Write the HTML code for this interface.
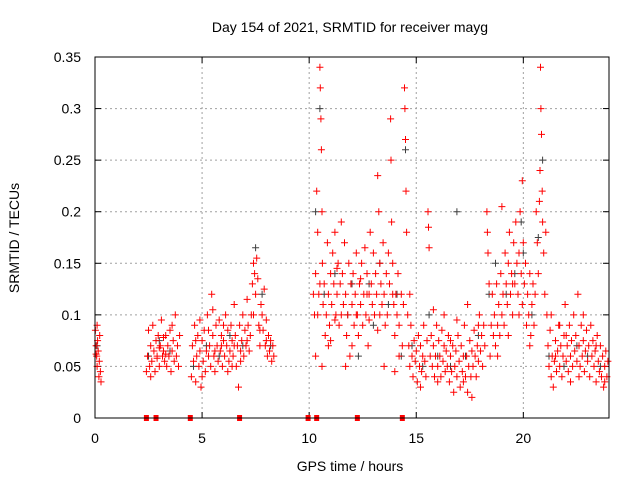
<!DOCTYPE html>
<html><head><meta charset="utf-8"><style>
body{margin:0;background:#fff}
svg{display:block;font-family:"Liberation Sans",sans-serif}
</style></head><body>
<svg id="chart" width="640" height="480" viewBox="0 0 640 480">
<rect width="640" height="480" fill="#fff"/>
<text x="350" y="32" font-size="14" text-anchor="middle">Day 154 of 2021, SRMTID for receiver mayg</text>
<text transform="translate(19,238) rotate(-90)" font-size="14" text-anchor="middle">SRMTID / TECUs</text>
<text x="350" y="471" font-size="14" text-anchor="middle">GPS time / hours</text>
<g id="grid"></g>
<g id="ticks"></g>
<g id="gray"></g>
<g id="red"></g>
<g id="gaps"></g>
<rect x="95" y="57" width="514" height="361" fill="none" stroke="#000" stroke-width="1"/>
</svg>
<script>
const xTicks=[0,5,10,15,20];
const yTicks=[0,0.05,0.1,0.15,0.2,0.25,0.3,0.35];
const yTickLabels=["0","0.05","0.1","0.15","0.2","0.25","0.3","0.35"];
const gapHours=[2.4,2.85,4.45,6.75,9.95,10.35,12.25,14.35];
const red=[[0.02,.085],[0.05,.07],[0.08,.06],[0.1,.05],[0.12,.075],[0.15,.065],[0.18,.04],[0.2,.055],[0.22,.08],[0.25,.045],[0.28,.035],[0.1,.09],[0.05,.062],
[2.4,.045],[2.45,.06],[2.5,.085],[2.55,.05],[2.6,.07],[2.65,.055],[2.7,.09],[2.75,.065],[2.8,.045],[2.85,.075],[2.9,.06],[2.95,.08],[3.0,.05],[3.05,.07],[3.1,.095],[3.15,.06],[3.2,.065],[3.25,.055],[3.3,.08],[3.35,.05],[3.4,.07],[3.45,.06],[3.5,.085],[3.55,.045],[3.6,.065],[3.65,.075],[3.7,.055],[3.75,.1],[3.8,.06],[3.85,.07],[3.9,.05],[3.95,.08],[2.6,.04],[3.0,.068],[3.3,.062],[3.6,.09],[2.9,.058],[3.2,.078],
[4.5,.04],[4.55,.07],[4.6,.055],[4.65,.09],[4.7,.035],[4.75,.06],[4.8,.08],[4.85,.05],[4.9,.065],[4.95,.03],[5.0,.075],[5.05,.055],[5.1,.085],[5.15,.045],[5.2,.065],[5.25,.1],[5.3,.06],[5.35,.07],[5.4,.05],[5.45,.12],[5.5,.08],[5.55,.06],[5.6,.045],[5.65,.09],[5.7,.07],[5.75,.055],[5.8,.095],[5.85,.065],[5.9,.08],[5.95,.05],[6.0,.075],[6.05,.06],[6.1,.1],[6.15,.07],[6.2,.085],[6.25,.055],[6.3,.065],[6.35,.09],[6.4,.075],[6.45,.06],[6.5,.11],[6.55,.08],[6.6,.05],[6.65,.07],[6.7,.03],[6.75,.09],[6.8,.065],[6.85,.075],[6.9,.1],[6.95,.06],[7.0,.085],[7.05,.07],[7.1,.115],[7.15,.09],[7.2,.065],[7.25,.08],[7.3,.1],[7.35,.13],[7.4,.15],[7.45,.14],[7.5,.12],[7.55,.155],[7.6,.135],[7.65,.09],[7.7,.07],[7.75,.11],[7.8,.1],[7.85,.085],[7.9,.125],[7.95,.07],[8.0,.095],[8.05,.06],[8.1,.08],[8.15,.065],[8.2,.075],[8.25,.055],[8.3,.07],[8.35,.06],[4.7,.075],[5.0,.04],[5.3,.085],[5.6,.065],[5.9,.07],[6.2,.045],[6.5,.07],[6.8,.055],[7.1,.075],[7.4,.1],[7.7,.085],[8.0,.075],[4.9,.095],[5.5,.105],[6.0,.09],[6.4,.05],
[10.2,.12],[10.25,.1],[10.3,.14],[10.35,.22],[10.4,.18],[10.45,.12],[10.5,.34],[10.52,.32],[10.55,.29],[10.57,.26],[10.6,.2],[10.62,.15],[10.65,.11],[10.7,.13],[10.75,.08],[10.8,.1],[10.85,.17],[10.9,.12],[10.95,.09],[11.0,.14],[11.05,.11],[11.1,.16],[11.15,.13],[11.2,.18],[11.25,.1],[11.3,.12],[11.35,.15],[11.4,.09],[11.45,.13],[11.5,.19],[11.55,.14],[11.6,.11],[11.65,.17],[11.7,.12],[11.75,.08],[11.8,.1],[11.85,.15],[11.9,.06],[11.95,.13],[12.0,.11],[12.05,.14],[12.1,.09],[12.15,.12],[12.2,.16],[12.25,.1],[12.3,.08],[12.35,.13],[12.4,.11],[12.45,.15],[12.5,.09],[12.55,.12],[12.6,.165],[12.65,.1],[12.7,.14],[12.75,.07],[12.8,.12],[12.85,.18],[12.9,.13],[12.95,.11],[13.0,.16],[13.05,.1],[13.1,.14],[13.15,.12],[13.2,.235],[13.25,.2],[13.3,.15],[13.35,.13],[13.4,.11],[13.45,.17],[13.5,.12],[13.55,.09],[13.6,.14],[13.65,.1],[13.7,.16],[13.75,.13],[13.8,.29],[13.82,.25],[13.85,.19],[13.9,.15],[13.95,.11],[14.0,.08],[14.05,.12],[14.1,.1],[14.15,.14],[14.2,.09],[14.3,.12],[14.35,.07],[14.4,.11],[14.45,.32],[14.47,.3],[14.5,.27],[14.52,.22],[14.55,.18],[10.3,.06],[10.6,.05],[10.9,.07],[11.2,.095],[11.7,.05],[12.0,.07],[12.4,.135],[12.8,.095],[13.2,.085],[13.5,.05],[14.0,.045],[10.4,.1],[11.0,.075],[11.5,.1],[12.2,.1],[12.7,.12],[13.3,.1],[13.9,.12],[10.5,.13],[11.3,.145],[14.2,.06],
[14.6,.1],[14.65,.07],[14.7,.05],[14.75,.09],[14.8,.06],[14.85,.04],[14.9,.075],[14.95,.055],[15.0,.065],[15.05,.035],[15.1,.08],[15.15,.05],[15.2,.07],[15.25,.045],[15.3,.06],[15.35,.09],[15.4,.055],[15.45,.04],[15.5,.075],[15.55,.2],[15.57,.185],[15.6,.165],[15.65,.06],[15.7,.08],[15.75,.05],[15.8,.07],[15.85,.04],[15.9,.06],[15.95,.09],[16.0,.05],[16.05,.075],[16.1,.06],[16.15,.04],[16.2,.085],[16.25,.055],[16.3,.07],[16.35,.045],[16.4,.065],[16.45,.05],[16.5,.08],[16.55,.035],[16.6,.06],[16.65,.045],[16.7,.07],[16.75,.025],[16.8,.05],[16.85,.065],[16.9,.04],[16.95,.08],[17.0,.055],[17.05,.03],[17.1,.07],[17.15,.045],[17.2,.06],[17.25,.09],[17.3,.04],[17.35,.06],[17.4,.025],[17.45,.05],[17.5,.075],[17.55,.04],[17.6,.065],[17.65,.05],[17.7,.085],[17.75,.06],[17.8,.04],[17.85,.07],[17.9,.055],[17.95,.1],[18.0,.065],[18.05,.08],[18.1,.05],[18.15,.09],[18.2,.07],[18.3,.2],[18.32,.18],[18.35,.16],[15.2,.03],[15.8,.105],[16.3,.1],[16.9,.095],[17.4,.11],[17.9,.09],[14.7,.12],[16.0,.035],[16.6,.075],[17.2,.035],[17.6,.02],[18.4,.13],[18.45,.06],
[18.5,.09],[18.55,.12],[18.6,.08],[18.65,.1],[18.7,.07],[18.75,.13],[18.8,.09],[18.85,.11],[18.9,.08],[18.95,.14],[19.0,.1],[19.05,.12],[19.1,.09],[19.15,.16],[19.2,.13],[19.25,.11],[19.3,.15],[19.35,.18],[19.4,.12],[19.45,.14],[19.5,.1],[19.55,.17],[19.6,.13],[19.65,.19],[19.7,.15],[19.75,.12],[19.8,.16],[19.85,.2],[19.9,.14],[19.95,.11],[20.0,.17],[20.05,.13],[20.1,.15],[20.15,.09],[20.2,.12],[20.25,.1],[20.3,.14],[20.35,.08],[20.4,.11],[20.45,.13],[20.5,.09],[20.55,.12],[20.6,.2],[20.65,.17],[20.7,.14],[20.75,.21],[20.78,.24],[20.8,.34],[20.82,.3],[20.85,.275],[20.88,.22],[20.9,.19],[20.95,.16],[21.0,.12],[21.05,.18],[19.95,.23],[18.8,.06],[19.3,.08],[19.8,.1],[20.3,.07],[19.0,.205],[19.5,.13],
[21.1,.1],[21.15,.07],[21.2,.05],[21.25,.085],[21.3,.04],[21.35,.06],[21.4,.03],[21.45,.055],[21.5,.075],[21.55,.045],[21.6,.065],[21.65,.09],[21.7,.05],[21.75,.07],[21.8,.04],[21.85,.06],[21.9,.08],[21.95,.11],[22.0,.055],[22.05,.07],[22.1,.045],[22.15,.09],[22.2,.06],[22.25,.075],[22.3,.05],[22.35,.1],[22.4,.065],[22.45,.08],[22.5,.055],[22.55,.12],[22.6,.07],[22.65,.05],[22.7,.09],[22.75,.06],[22.8,.075],[22.85,.045],[22.9,.065],[22.95,.085],[23.0,.055],[23.05,.07],[23.1,.04],[23.15,.09],[23.2,.06],[23.25,.075],[23.3,.05],[23.35,.065],[23.4,.035],[23.45,.08],[23.5,.055],[23.55,.045],[23.6,.07],[23.65,.04],[23.7,.06],[23.75,.03],[23.8,.05],[23.85,.065],[23.9,.04],[23.95,.055],[21.3,.1],[21.7,.09],[22.2,.035],[22.8,.1],[23.4,.07],[23.8,.035],[21.5,.06],[22.0,.08],[22.6,.04]];
const gray=[[0.1,.07],[2.5,.06],[3.0,.075],[3.5,.065],[4.6,.05],[5.2,.07],[5.8,.06],[6.3,.08],[6.9,.07],[7.5,.165],[7.8,.12],[8.2,.07],[10.3,.2],[10.5,.3],[10.7,.12],[11.2,.14],[11.8,.1],[12.3,.06],[12.8,.13],[13.3,.15],[13.7,.11],[14.1,.12],[14.5,.26],[14.8,.07],[15.3,.05],[15.6,.1],[16.0,.06],[16.6,.05],[17.3,.06],[17.9,.08],[18.4,.12],[18.7,.15],[19.2,.12],[19.6,.14],[20.0,.16],[20.4,.1],[20.9,.25],[21.2,.06],[21.9,.05],[22.5,.07],[23.0,.06],[23.6,.05],[12.0,.13],[13.0,.09],[16.9,.2],[19.9,.19],[20.7,.175],[14.3,.06]];

const X0=95,X1=609,Y0=418,Y1=57;
const xs=h=>X0+(h/24)*(X1-X0);
const ys=v=>Y0-(v/0.35)*(Y0-Y1);
const NS="http://www.w3.org/2000/svg";
function mk(tag,parent){const e=document.createElementNS(NS,tag);parent.appendChild(e);return e;}
const grid=document.getElementById('grid'),ticks=document.getElementById('ticks');
yTicks.forEach((v,i)=>{
  const y=ys(v);
  if(i>0&&i<yTicks.length-1){const g=mk('line',grid);
    
    
    g.setAttribute('x1',X0);g.setAttribute('x2',X1);g.setAttribute('y1',y);g.setAttribute('y2',y);
    g.setAttribute('stroke','#a0a0a0');g.setAttribute('stroke-dasharray','2,3');}
  [[X0,X0+6],[X1,X1-6]].forEach(p=>{const t=mk('line',ticks);
    
    
    t.setAttribute('x1',p[0]);t.setAttribute('x2',p[1]);t.setAttribute('y1',y);t.setAttribute('y2',y);t.setAttribute('stroke','#000');});
  const l=mk('text',ticks);
  
  
  l.setAttribute('x',X0-14);l.setAttribute('y',y+5);l.setAttribute('font-size','14');l.setAttribute('text-anchor','end');
  l.textContent=yTickLabels[i];
});
xTicks.forEach(h=>{
  const x=xs(h);
  if(h>0){const g=mk('line',grid);
    
    
    g.setAttribute('x1',x);g.setAttribute('x2',x);g.setAttribute('y1',Y1);g.setAttribute('y2',Y0);
    g.setAttribute('stroke','#a0a0a0');g.setAttribute('stroke-dasharray','2,3');}
  [[Y0,Y0-6],[Y1,Y1+6]].forEach(p=>{const t=mk('line',ticks);
    
    
    t.setAttribute('x1',x);t.setAttribute('x2',x);t.setAttribute('y1',p[0]);t.setAttribute('y2',p[1]);t.setAttribute('stroke','#000');});
  const l=mk('text',ticks);
  
  
  l.setAttribute('x',x);l.setAttribute('y',443);l.setAttribute('font-size','14');l.setAttribute('text-anchor','middle');
  l.textContent=String(h);
});
function plot(arr,id,color,name){
  const g=document.getElementById(id);let d='';
  arr.forEach(p=>{const x=xs(p[0]).toFixed(1),y=ys(p[1]).toFixed(1);
    d+=`M${x-3.5} ${y}h7M${x} ${y-3.5}v7`;});
  const path=mk('path',g);
  
  
  path.setAttribute('d',d);path.setAttribute('stroke',color);path.setAttribute('stroke-width','1');path.setAttribute('fill','none');
}
plot(gray,'gray','#404040','gray-points');
plot(red,'red','#ff0000','red-points');
const gaps=document.getElementById('gaps');
gapHours.forEach(h=>{const r=mk('rect',gaps);
  
  
  r.setAttribute('x',xs(h)-2.5);r.setAttribute('y',Y0-3);r.setAttribute('width',5);r.setAttribute('height',6);r.setAttribute('fill','#ff0000');});
</script>
</body></html>
